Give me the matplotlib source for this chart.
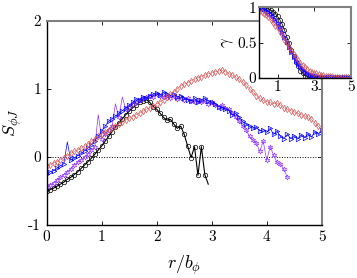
import numpy as np
import matplotlib
matplotlib.use("Agg")
import matplotlib.pyplot as plt

plt.rcParams['font.family'] = 'serif'
plt.rcParams['font.serif'] = ['cmr10', 'DejaVu Serif']
plt.rcParams['mathtext.fontset'] = 'cm'
plt.rcParams['axes.unicode_minus'] = False

# ---------------- data: main panel (r/b_phi on a 1/16 grid) ----------------
r_main = np.arange(0, 81) / 16.0

s_black = [-0.50, -0.48, -0.46, -0.43, -0.40, -0.37, -0.33, -0.30, -0.26, -0.22,
           -0.17, -0.12, -0.07, -0.02, 0.04, 0.10, 0.16, 0.23, 0.30, 0.37,
           0.44, 0.50, 0.56, 0.62, 0.67, 0.72, 0.76, 0.80, 0.82, 0.84,
           0.80, 0.74, 0.70, 0.64, 0.58, 0.54, 0.55, 0.48, 0.42, 0.45,
           0.33, 0.16, -0.01, 0.15, -0.27, 0.15, -0.26, -0.40]

s_purple = [-0.44, -0.41, -0.38, -0.34, -0.30, -0.26, -0.22, -0.18, -0.12, -0.08,
            -0.04, 0.00, 0.04, 0.10, 0.15, 0.62, 0.27, 0.33, 0.40, 0.45,
            0.78, 0.58, 0.88, 0.70, 0.74, 0.78, 0.80, 0.84, 0.86, 0.88,
            0.90, 0.88, 0.92, 0.90, 0.88, 0.91, 0.87, 0.89, 0.85, 0.87,
            0.84, 0.86, 0.82, 0.80, 0.84, 0.80, 0.82, 0.78, 0.80, 0.76,
            0.74, 0.76, 0.72, 0.70, 0.65, 0.58, 0.52, 0.46, 0.40, 0.30,
            0.25, 0.20, 0.08, 0.23, -0.05, 0.15, 0.03, -0.08, -0.11, -0.18,
            -0.30]
purple_spikes = [15, 20, 22]

s_blue = [-0.25, -0.22, -0.20, -0.17, -0.13, -0.10, 0.22, -0.05, -0.02, 0.02,
          0.05, 0.09, 0.13, 0.18, 0.24, 0.30, 0.38, 0.45, 0.52, 0.56,
          0.60, 0.64, 0.68, 0.72, 0.76, 0.80, 0.85, 0.84, 0.88, 0.86,
          0.90, 0.92, 0.94, 0.91, 0.95, 0.92, 0.90, 0.93, 0.88, 0.90,
          0.86, 0.84, 0.82, 0.86, 0.80, 0.84, 0.86, 0.82, 0.80, 0.78,
          0.74, 0.72, 0.70, 0.68, 0.62, 0.64, 0.58, 0.52, 0.48, 0.45,
          0.42, 0.44, 0.38, 0.40, 0.36, 0.42, 0.33, 0.38, 0.30, 0.27,
          0.33, 0.27, 0.31, 0.26, 0.32, 0.28, 0.34, 0.29, 0.37, 0.33,
          0.40]
blue_spikes = [6]

s_red = [-0.14, -0.12, -0.09, -0.07, -0.04, -0.01, 0.02, 0.05, 0.08, 0.10,
         0.13, 0.16, 0.19, 0.23, 0.27, 0.30, 0.33, 0.37, 0.40, 0.43,
         0.46, 0.48, 0.51, 0.54, 0.57, 0.59, 0.62, 0.64, 0.67, 0.70,
         0.72, 0.75, 0.78, 0.81, 0.84, 0.88, 0.92, 0.96, 1.00, 1.04,
         1.07, 1.09, 1.12, 1.14, 1.16, 1.18, 1.20, 1.22, 1.23, 1.25,
         1.26, 1.27, 1.25, 1.22, 1.20, 1.17, 1.14, 1.10, 1.05, 1.00,
         0.95, 0.90, 0.86, 0.83, 0.81, 0.80, 0.78, 0.79, 0.76, 0.72,
         0.70, 0.68, 0.66, 0.64, 0.62, 0.60, 0.58, 0.55, 0.50, 0.45,
         0.40]

# ---------------- data: inset (gamma) on a 1/8 grid ----------------
r_in = np.arange(0, 41) / 8.0

g_black = [1.00, 1.00, 1.00, 0.99, 0.98, 0.96, 0.94, 0.91, 0.87, 0.82,
           0.76, 0.68, 0.58, 0.49, 0.40, 0.31, 0.23, 0.16, 0.10, 0.06,
           0.03, 0.015, 0.008, 0.004, 0.002, 0.001, 0.0, 0.0, 0.0, 0.0,
           0.0, 0.0, 0.0, 0.0, 0.0, 0.0, 0.0, 0.0, 0.0, 0.0, 0.0]
g_purple = [1.00, 0.98, 0.96, 0.94, 0.91, 0.88, 0.84, 0.80, 0.75, 0.69,
            0.63, 0.56, 0.49, 0.42, 0.36, 0.30, 0.24, 0.19, 0.15, 0.11,
            0.08, 0.06, 0.045, 0.035, 0.027, 0.02, 0.016, 0.013, 0.01, 0.008,
            0.007, 0.006, 0.005, 0.004, 0.004, 0.003, 0.003, 0.002, 0.002, 0.002, 0.002]
g_blue = [1.00, 0.99, 0.98, 0.96, 0.94, 0.91, 0.87, 0.83, 0.78, 0.72,
          0.65, 0.58, 0.51, 0.44, 0.37, 0.30, 0.24, 0.19, 0.15, 0.11,
          0.08, 0.06, 0.045, 0.035, 0.027, 0.02, 0.016, 0.013, 0.01, 0.008,
          0.007, 0.006, 0.005, 0.004, 0.004, 0.003, 0.003, 0.003, 0.003, 0.003, 0.003]
g_red = [0.94, 0.93, 0.91, 0.89, 0.86, 0.82, 0.78, 0.74, 0.70, 0.65,
         0.60, 0.54, 0.49, 0.44, 0.39, 0.34, 0.29, 0.25, 0.21, 0.18,
         0.15, 0.12, 0.10, 0.085, 0.07, 0.06, 0.05, 0.042, 0.035, 0.03,
         0.025, 0.021, 0.018, 0.015, 0.013, 0.011, 0.01, 0.009, 0.008, 0.007, 0.006]

c_black = 'k'
c_purple = (0.58, 0.22, 1.0)
c_blue = (0.0, 0.0, 1.0)
c_red = (0.82, 0.32, 0.32)
hexagram = (6, 1, 0)


def keep(n, spikes):
    return [i for i in range(n) if i not in spikes]


def style_box(ax):
    for s in ['left', 'bottom']:
        ax.spines[s].set_color('k')
        ax.spines[s].set_linewidth(1.0)
    for s in ['top', 'right']:
        ax.spines[s].set_color('0.5')
        ax.spines[s].set_linewidth(1.5)
    ax.tick_params(direction='in', top=True, right=True, length=3,
                   width=0.6, labelsize=11, pad=4)


fig = plt.figure(figsize=(3.57, 2.78), dpi=100)

ax = fig.add_axes([0.1308, 0.1906, 0.7703, 0.735])
ax.axhline(0, color='k', ls=':', lw=0.7)

ax.plot(r_main[:len(s_black)], s_black, '-', color=c_black, lw=0.8,
        marker='o', ms=3.2, mfc='none', mew=0.5,
        markevery=keep(len(s_black), [len(s_black) - 1]))
ax.plot(r_main[:len(s_purple)], s_purple, '-', color=c_purple, lw=0.5,
        marker=hexagram, ms=3.6, mfc='none', mew=0.5,
        markevery=keep(len(s_purple), purple_spikes))
ax.plot(r_main[:len(s_blue)], s_blue, '-', color=c_blue, lw=0.5,
        marker='>', ms=3.2, mfc='none', mew=0.5,
        markevery=keep(len(s_blue), blue_spikes))
ax.plot(r_main[:len(s_red)], s_red, '-', color=c_red, lw=0.3,
        marker='d', ms=3.2, mfc='none', mew=0.5)

ax.set_xlim(0, 5)
ax.set_ylim(-1, 2)
ax.set_xticks([0, 1, 2, 3, 4, 5])
ax.set_xticklabels(['0', '1', '2', '3', '4', '5'])
ax.set_yticks([-1, 0, 1, 2])
ax.set_yticklabels(['-1', '0', '1', '2'])
style_box(ax)
ax.set_xlabel(r'$r/b_\phi$', fontsize=13, labelpad=7)
ax.set_ylabel(r'$S_{\phi J}$', fontsize=13, labelpad=3)

# inset
axi = fig.add_axes([0.7265, 0.7205, 0.256, 0.2532])
axi.set_facecolor('white')
axi.plot(r_in, g_black, '-', color=c_black, lw=0.5, marker='o', ms=3.0, mfc='none', mew=0.5)
axi.plot(r_in, g_purple, '-', color=c_purple, lw=0.4, marker=hexagram, ms=3.2, mfc='none', mew=0.5)
axi.plot(r_in, g_blue, '-', color=c_blue, lw=0.4, marker='>', ms=3.0, mfc='none', mew=0.5)
axi.plot(r_in, g_red, '-', color=c_red, lw=0.3, marker='d', ms=3.0, mfc='none', mew=0.5)
axi.set_xlim(0, 5)
axi.set_ylim(0, 1)
axi.set_xticks([1, 3, 5])
axi.set_xticklabels(['1', '3', '5'])
axi.set_yticks([0, 0.5, 1])
axi.set_yticklabels(['0', '0.5', '1'])
style_box(axi)
axi.tick_params(pad=2)
axi.set_ylabel(r'$\gamma$', fontsize=12, labelpad=1)

fig.savefig('out.png', dpi=100)
